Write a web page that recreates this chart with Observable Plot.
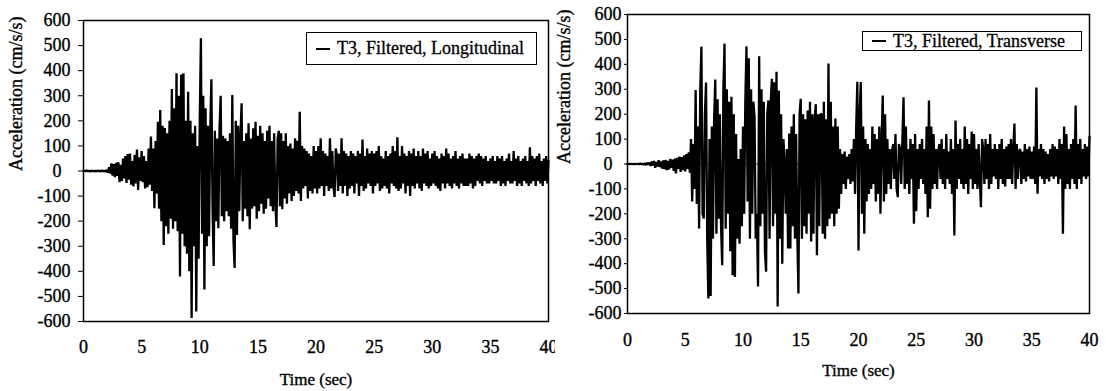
<!DOCTYPE html>
<html>
<head>
<meta charset="utf-8">
<script src="https://cdn.jsdelivr.net/npm/d3@7"></script>
<script src="https://cdn.jsdelivr.net/npm/@observablehq/plot@0.6"></script>
<style>
  html, body { margin: 0; padding: 0; background: #fff; }
  #wrap { position: relative; width: 1107px; height: 391px; overflow: hidden; font-family: 'Liberation Serif', serif; }
  .panel { position: absolute; top: 0; }
  .panel text { font-family: 'Liberation Serif', serif !important; stroke: #000; stroke-width: 0.35px; paint-order: stroke; }
  .legend { position: absolute; box-sizing: border-box; border: 1px solid #000; background: #fff;
    font-family: 'Liberation Serif', serif; font-size: 18px; color: #000; display: flex; align-items: center; white-space: nowrap;
    -webkit-text-stroke: 0.3px #000; }
  .legend .sw { display: inline-block; width: 14px; height: 2px; background: #000; margin: 0 7px 0 9px; }
</style>
</head>
<body>
<div id="wrap"></div>
<script>
// ---- data (cm/s/s), sampled every 0.1 s from 0 to 40 s ----
const dt = 0.1;
const xTicks = [0, 5, 10, 15, 20, 25, 30, 35, 40];
const yTicks = [-600, -500, -400, -300, -200, -100, 0, 100, 200, 300, 400, 500, 600];
const legendLong = "T3, Filtered, Longitudinal";
const legendTrans = "T3, Filtered, Transverse";

const longitudinal = [
  0,1,-1,2,-1,1,-2,1,0,-1,
  1,-2,2,-1,1,-2,3,-2,2,-3,
  4,-6,15,-10,30,-18,28,-25,33,-20,
  35,-45,25,-40,50,-30,60,-48,68,-35,
  70,-55,40,-62,65,-50,86,-76,55,-40,
  80,-45,60,-70,40,-65,90,-55,137,-80,
  90,-148,120,-90,196,-150,243,-200,180,-295,
  171,-220,150,-250,200,-190,327,-230,250,-200,
  390,-240,300,-421,385,-250,390,-300,200,-330,
  316,-400,200,-586,150,-300,180,-560,100,-350,
  200,529,-250,300,-472,250,-300,180,-260,160,
  366,-150,-379,160,-200,130,-228,170,300,-180,
  140,-200,130,-160,120,-180,150,-230,303,-275,
  -387,200,-255,180,-160,140,270,-200,120,-150,
  150,-180,190,-232,130,-150,170,-140,196,-190,
  140,-160,180,-130,150,-170,120,-150,160,-110,
  180,-140,120,-160,150,-130,-223,130,160,-140,
  150,-152,120,-110,150,-130,100,-90,110,-120,
  90,-100,130,-80,120,-90,236,-120,100,-70,
  90,-60,80,-110,70,-80,60,-90,100,-70,
  80,-90,100,-70,130,-60,80,-100,70,-60,
  60,-80,130,-70,80,-60,-104,90,60,-80,
  70,-60,130,-90,80,-60,70,-100,60,-70,
  80,-60,70,-90,60,-50,80,-100,70,-60,
  125,-80,60,-70,90,-50,70,-60,80,-90,
  70,-60,80,-50,100,-80,60,-70,50,-60,
  80,-70,60,-90,70,-50,100,-60,80,-70,
  134,-80,60,-70,100,-50,70,-90,60,-60,
  80,-100,70,-60,90,-70,60,-50,80,-70,
  60,-80,90,-50,70,-60,80,-70,50,-60,
  70,-50,80,-60,60,-70,50,-80,70,-50,
  60,-70,90,-50,70,-60,50,-70,60,-50,
  80,-60,50,-70,60,-50,70,-60,50,-60,
  50,-60,70,-50,60,-70,50,-60,60,-40,
  70,-50,60,-60,50,-40,60,-50,40,-50,
  50,-40,60,-50,40,-50,60,-40,50,-60,
  60,-50,40,-60,50,-40,70,-50,40,-50,
  80,-40,50,-60,60,-50,40,-60,50,-40,
  60,-50,40,-60,95,-50,60,-40,50,-60,
  60,-40,70,-50,40,-60,50,-40,60,-50,
  40
];

const transverse = [
  0,1,-1,1,0,-1,1,-1,0,1,
  -1,2,-1,1,-2,3,-4,5,-3,6,
  -8,10,-6,12,-15,8,-10,15,-12,10,
  -18,14,-20,16,-25,12,-22,20,-15,18,
  -28,22,-38,25,-20,30,-32,28,-25,35,
  -30,40,-20,47,-35,100,-150,80,-100,297,
  -160,150,-259,300,471,-200,-219,200,327,-300,
  -540,100,-530,150,-300,180,339,-280,260,-220,
  200,-250,-406,300,483,-260,300,-200,250,-350,
  270,-446,200,-453,120,-300,20,-320,60,-250,
  150,-200,250,472,-150,424,-300,300,-200,250,
  188,-300,-200,-492,432,-250,300,-200,250,-350,
  -432,200,255,-300,250,342,-250,328,-200,370,
  -572,295,-300,200,-400,100,10,-200,60,-339,
  122,-339,150,-250,200,-300,120,-280,-520,200,
  262,-300,200,-250,180,-280,215,-200,250,-311,
  200,-280,180,240,-366,200,-250,200,200,-280,
  250,-300,180,-250,403,-220,250,-200,150,-250,
  183,-200,150,-180,60,-120,40,-80,50,-100,
  30,-60,40,-80,60,-70,100,-120,150,330,
  -347,200,329,-200,150,-280,100,-150,80,-120,
  60,-100,150,-80,120,-150,100,-120,150,-200,
  100,275,-150,200,-120,100,-80,60,-100,50,
  80,-60,120,-100,-133,80,60,-80,100,268,
  -100,150,-80,60,-120,100,-60,80,-240,120,
  -190,60,-100,80,-60,100,-80,60,-120,150,
  -214,255,-180,150,-100,120,-80,60,-100,50,
  80,-60,100,-80,60,-100,120,-60,50,-80,
  100,-120,60,-287,175,-100,80,-60,100,-80,
  60,-100,150,-80,100,-120,80,-60,130,-100,
  120,-80,60,-100,80,-60,-173,100,60,-80,
  100,-60,80,-100,120,-80,60,-50,80,-60,
  60,-100,80,-60,100,-80,60,-90,70,-60,
  80,-60,100,-80,60,162,-100,80,-60,50,
  60,-80,50,-60,80,-70,60,-50,70,-60,
  50,-60,70,-80,307,-119,60,-50,80,-60,
  60,-80,50,-60,40,-70,60,-50,80,-60,
  70,-50,60,-80,100,-60,80,-280,150,-100,
  120,-80,60,-100,80,-60,100,-80,235,-100,
  80,-60,100,-80,60,-50,80,-60,70,-50,
  110
];

// ---- drawing ----
const FONT = "'Liberation Serif', serif";
const fmtY = d => d === 0 ? "0\u2007" : (d < 0 ? "-" + Math.abs(d) : String(d));

function panel(values, opt) {
  const rows = values.map((v, i) => ({t: +(i * dt).toFixed(1), a: v}));
  return Plot.plot({
    width: opt.width, height: 391,
    marginLeft: opt.ml, marginRight: opt.mr, marginTop: opt.mt, marginBottom: 391 - opt.bottom,
    style: {fontFamily: FONT, fontSize: "18px", color: "#000", background: "#fff", overflow: "visible"},
    x: {domain: [0, 40]},
    y: {domain: [-600, 600]},
    marks: [
      Plot.ruleY([0], {stroke: "#555", strokeWidth: 1}),
      Plot.line(rows, {x: "t", y: "a", stroke: "#000", strokeWidth: 2.3, strokeLinejoin: "miter"}),
      Plot.frame({stroke: "#000", strokeWidth: 1.5}),
      Plot.axisX({ticks: xTicks, tickSize: 0, tickPadding: opt.xpad, tickFormat: d => String(d), fontSize: 18, fontFamily: FONT, label: null}),
      Plot.axisY({ticks: yTicks, tickSize: opt.ts, tickPadding: opt.tp, tickFormat: fmtY, fontSize: 18, fontFamily: FONT, label: null}),
      Plot.text(["Time (sec)"], {frameAnchor: "bottom", dy: opt.xlab, fontSize: 17, fontFamily: FONT, fill: "#000", lineAnchor: "middle"}),
      Plot.text(["Acceleration (cm/s/s)"], {frameAnchor: "left", dx: opt.ylab, rotate: -90, fontSize: 18, fontFamily: FONT, fill: "#000", lineAnchor: "middle"})
    ]
  });
}

const wrap = document.getElementById("wrap");

const left = panel(longitudinal, {width: 555, ml: 83, mr: 7, mt: 20, bottom: 321, xpad: 19, ts: 5, tp: 8, xlab: 58, ylab: -67});
left.classList.add("panel"); left.style.left = "0px";
wrap.appendChild(left);

const right = panel(transverse, {width: 552, ml: 72, mr: 18, mt: 14, bottom: 313, xpad: 20, ts: 3, tp: 3, xlab: 57, ylab: -63});
right.classList.add("panel"); right.style.left = "555px";
wrap.appendChild(right);

function legend(text, x, y, w, h) {
  const d = document.createElement("div");
  d.className = "legend";
  Object.assign(d.style, {left: x + "px", top: y + "px", width: w + "px", height: h + "px"});
  const sw = document.createElement("span"); sw.className = "sw";
  const tx = document.createElement("span"); tx.textContent = text;
  d.appendChild(sw); d.appendChild(tx);
  wrap.appendChild(d);
}
legend(legendLong, 306, 32, 231, 33);
legend(legendTrans, 862, 31, 220, 20);
</script>
</body>
</html>
